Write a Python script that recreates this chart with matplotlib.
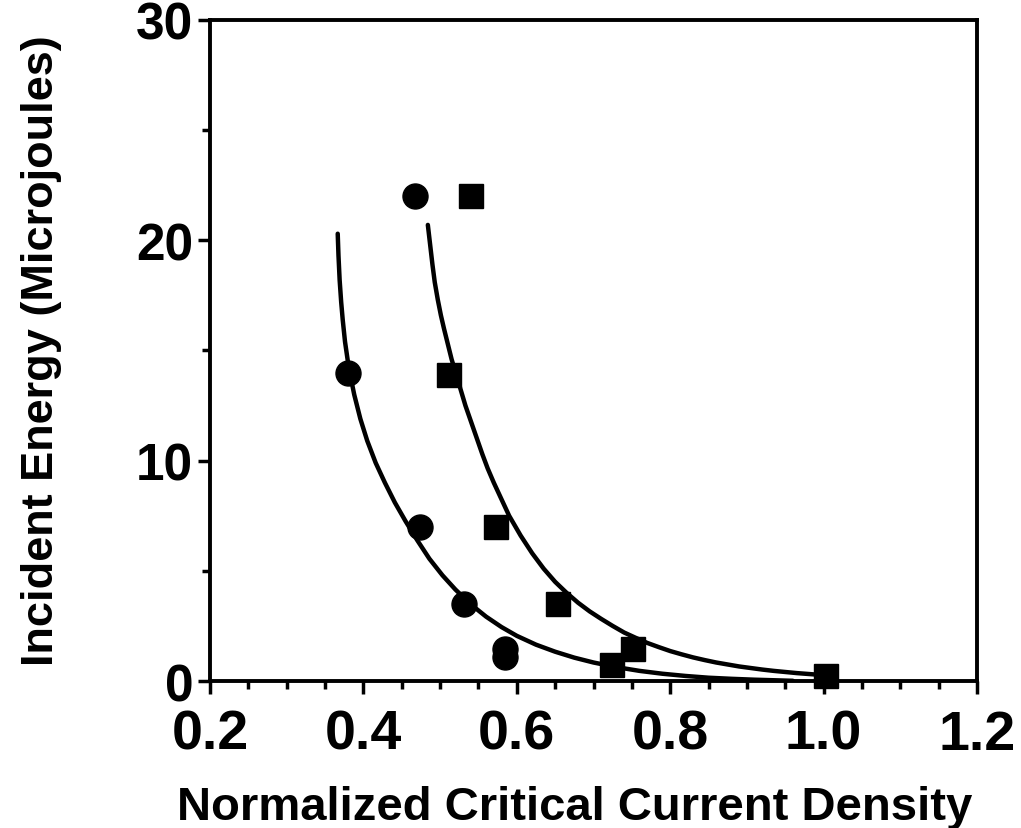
import matplotlib
matplotlib.use("Agg")
import matplotlib.pyplot as plt
from matplotlib.ticker import MultipleLocator

plt.rcParams['font.family'] = ['Liberation Sans', 'DejaVu Sans']
plt.rcParams['font.weight'] = 'bold'

# Data
circle_x = [0.467, 0.380, 0.474, 0.531, 0.585, 0.585]
circle_y = [22.0, 14.0, 7.0, 3.5, 1.45, 1.1]

square_x = [0.540, 0.512, 0.573, 0.654, 0.724, 0.751, 1.003]
square_y = [22.0, 13.9, 7.0, 3.5, 0.73, 1.45, 0.25]

# Fitted curves
curve1_x = [0.3665, 0.3675, 0.369, 0.371, 0.373, 0.376, 0.381, 0.388, 0.396,
            0.405, 0.416, 0.428, 0.441, 0.455, 0.470, 0.486, 0.503, 0.520,
            0.540, 0.560, 0.580, 0.600, 0.625, 0.650, 0.675, 0.700, 0.730,
            0.760, 0.790, 0.820, 0.850, 0.880, 0.910, 0.940, 0.960]
curve1_y = [20.3, 19.3, 18.2, 17.2, 16.4, 15.4, 14.2, 13.0, 11.9,
            10.9, 9.9, 9.0, 8.1, 7.25, 6.4, 5.55, 4.8, 4.15,
            3.48, 2.92, 2.45, 2.05, 1.65, 1.33, 1.06, 0.84, 0.63,
            0.46, 0.33, 0.23, 0.15, 0.10, 0.06, 0.03, 0.01]

curve2_x = [0.484, 0.487, 0.490, 0.493, 0.497, 0.501, 0.505, 0.510, 0.515,
            0.521, 0.527, 0.533, 0.540, 0.547, 0.555, 0.562, 0.570, 0.580,
            0.590, 0.605, 0.620, 0.635, 0.650, 0.665, 0.680, 0.695, 0.710,
            0.725, 0.740, 0.755, 0.770, 0.785, 0.800, 0.815, 0.830, 0.845,
            0.860, 0.875, 0.890, 0.905, 0.920, 0.935, 0.950, 0.965, 0.980,
            0.995, 1.010]
curve2_y = [20.7, 19.8, 18.9, 18.1, 17.3, 16.6, 16.0, 15.3, 14.6,
            13.9, 13.2, 12.5, 11.8, 11.1, 10.3, 9.65, 9.0, 8.25,
            7.5, 6.6, 5.8, 5.1, 4.5, 4.0, 3.55, 3.16, 2.82,
            2.5, 2.2, 1.96, 1.73, 1.54, 1.36, 1.21, 1.07, 0.95,
            0.84, 0.75, 0.66, 0.59, 0.52, 0.46, 0.41, 0.36, 0.32,
            0.28, 0.25]

xlim = (0.2, 1.2)
ylim = (0, 30)
x_ticks = [0.2, 0.4, 0.6, 0.8, 1.0, 1.2]
x_tick_labels = ['0.2', '0.4', '0.6', '0.8', '1.0', '1.2']
y_ticks = [0, 10, 20, 30]
y_tick_labels = ['0', '10', '20', '30']

fig = plt.figure(figsize=(10.21, 8.29), dpi=100)
ax = fig.add_axes([0.2057, 0.1773, 0.9569 - 0.2057, 0.9747 - 0.1773])

ax.plot(curve1_x, curve1_y, color='black', lw=3.2, solid_capstyle='round',
        solid_joinstyle='round', zorder=2)
ax.plot(curve2_x, curve2_y, color='black', lw=3.2, solid_capstyle='round',
        solid_joinstyle='round', zorder=2)
ax.plot(circle_x, circle_y, 'o', color='black', markersize=18, zorder=3, clip_on=False)
ax.plot(square_x, square_y, 's', color='black', markersize=17, zorder=3, clip_on=False)

ax.set_xlim(*xlim)
ax.set_ylim(*ylim)
ax.set_xticks(x_ticks)
ax.set_xticklabels(x_tick_labels)
ax.set_yticks(y_ticks)
ax.set_yticklabels(y_tick_labels)
ax.xaxis.set_minor_locator(MultipleLocator(0.05))
ax.yaxis.set_minor_locator(MultipleLocator(5))

for s in ax.spines.values():
    s.set_linewidth(2.8)

ax.tick_params(axis='both', which='major', direction='out', length=9, width=2.5)
ax.tick_params(axis='both', which='minor', direction='out', length=6, width=2.5)
ax.tick_params(axis='x', which='major', labelsize=40, pad=11)
ax.tick_params(axis='y', which='major', labelsize=37, pad=3)

for lab in ax.get_xticklabels() + ax.get_yticklabels():
    lab.set_fontweight('bold')

ax.set_xlabel('Normalized Critical Current Density', fontsize=34, fontweight='bold')
ax.set_ylabel('Incident Energy (Microjoules)', fontsize=32.5, fontweight='bold')
ax.xaxis.set_label_coords(0.476, -0.158)
ax.yaxis.set_label_coords(-0.193, 0.502)

fig.savefig('out.png', dpi=100)
